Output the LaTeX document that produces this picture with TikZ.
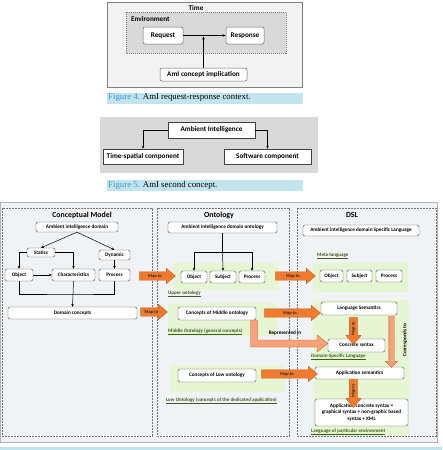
\documentclass[tikz,border=0pt]{standalone}
\usepackage{fontspec}
\setmainfont{Liberation Serif}
\setsansfont{Carlito}
\usetikzlibrary{arrows.meta,shapes.arrows,calc}
\definecolor{capband}{HTML}{C2E4EF}
\definecolor{capfig}{HTML}{3C97C6}
\definecolor{mapor}{HTML}{F07A2E}
\definecolor{mapbd}{HTML}{C0561A}
\definecolor{lightor}{HTML}{F7A27A}
\definecolor{panelbg}{HTML}{F0F3F5}
\definecolor{greenbg}{HTML}{E6F6D3}
\definecolor{ulgreen}{HTML}{3F5A1E}
\begin{document}
\begin{tikzpicture}[x=1pt,y=-1pt,
  fbox/.style={draw=black!60,fill=white,rounded corners=2pt,line width=0.5pt,font=\sffamily\bfseries\fontsize{7.2}{8}\selectfont,inner sep=0pt},
  gbox/.style={draw=black!75,fill=white,line width=0.5pt,font=\sffamily\bfseries\fontsize{7.2}{8}\selectfont,inner sep=0pt},
  cbox/.style={draw=black!70,fill=white,rounded corners=1.5pt,line width=0.4pt,font=\sffamily\bfseries\fontsize{5.2}{6.2}\selectfont,inner sep=0pt,align=center},
  conn/.style={draw=black,line width=0.5pt,-{Stealth[length=3pt,width=2.6pt]}},
  fline/.style={draw=black,line width=0.5pt},
  mapto/.style={single arrow,fill=mapor,draw=mapbd,line width=0.3pt,font=\sffamily\bfseries\fontsize{4.5}{4.8}\selectfont,text=black!85,inner xsep=1pt,inner ysep=2pt,text height=3.2pt,text depth=0.8pt,single arrow head extend=3.5pt,single arrow tip angle=80},
  panel/.style={draw=black!55,dash pattern=on 2pt off 1pt,line width=0.5pt},
  ptitle/.style={font=\sffamily\bfseries\fontsize{7.8}{8}\selectfont,inner sep=0pt},
  lbl/.style={font=\sffamily\bfseries\fontsize{5}{6}\selectfont,text=ulgreen,anchor=west,inner sep=0pt},
  greenzone/.style={fill=greenbg,draw=none},
  captext/.style={font=\fontsize{8.8}{10}\selectfont,anchor=west,inner sep=0pt},
]
\useasboundingbox (0,0) rectangle (442,450);
\fill[white] (0,0) rectangle (442,450);

% ---------------- Figure 4 ----------------
\draw[fill=black!5,draw=black!50,line width=0.6pt] (107,2) rectangle (302,87);
\node[font=\sffamily\bfseries\fontsize{7.2}{8}\selectfont,inner sep=0pt] (ftime) at (196,8) {Time};
\draw[fill=black!15,draw=black!50,dash pattern=on 1pt off 1pt,line width=0.5pt] (126,12) rectangle (286,53);
\node[font=\sffamily\bfseries\fontsize{7.2}{8}\selectfont,inner sep=0pt,anchor=west] (fenv) at (131,19) {Environment};
\node[fbox,minimum width=40,minimum height=17] (req) at (163,35.5) {Request};
\node[fbox,minimum width=38,minimum height=17] (resp) at (245,35.5) {Response};
\node[fbox,minimum width=87,minimum height=13] (aci) at (203.5,74.5) {AmI concept implication};
\draw[conn] (req.east) -- (resp.west);
\coordinate (fmid) at (203.5,36.5);
\draw[conn] (aci.north) -- (fmid);
\fill[capband] (107,92.5) rectangle (303,103.5);
\node[captext] (cap4) at (108,98) {{\color{capfig}Figure 4.} AmI request-response context.};

% ---------------- Figure 5 ----------------
\fill[black!15] (100,117) rectangle (318,173);
\node[gbox,minimum width=87,minimum height=16] (ai) at (211.5,130) {Ambient Intelligence};
\node[gbox,minimum width=80,minimum height=15] (ts) at (143,156.5) {Time-spatial component};
\node[gbox,minimum width=87,minimum height=15] (sw) at (267.5,156.5) {Software component};
\draw[conn] (ai.west) -| (ts.north);
\draw[conn] (ai.east) -| (sw.north);
\fill[capband] (107,179.5) rectangle (303,190.5);
\node[captext] (cap5) at (108,185) {{\color{capfig}Figure 5.} AmI second concept.};

% ---------------- Figure 6 ----------------
\draw[fill=panelbg,draw=black!30,line width=1pt] (0.5,202) rectangle (437.5,442);
\fill[capband] (0,447) rectangle (442,450);
\draw[panel] (2,208) rectangle (152,436);
\draw[panel] (157,208) rectangle (289,436);
\draw[panel] (297,208) rectangle (436,436);
\node[ptitle] (tcm) at (82,215) {Conceptual Model};
\node[ptitle] (tont) at (219,215) {Ontology};
\node[ptitle] (tdsl) at (352,215) {DSL};

% green zones
\fill[greenzone] (173,263) rectangle (279,290);
\fill[greenzone] (168,303) rectangle (277,336);
\fill[greenzone] (170,365) rectangle (285,392);
\fill[greenzone] (313,263) rectangle (408,292);
\fill[greenzone] (313,300) rectangle (409,436);

% Conceptual model
\node[cbox,minimum width=82,minimum height=10] (cmA) at (77,227) {Ambient intelligence domain};
\node[cbox,minimum width=28,minimum height=9] (cst) at (41,252.5) {Statics};
\node[cbox,minimum width=31,minimum height=10] (cdy) at (114.5,255) {Dynamic};
\node[cbox,minimum width=28,minimum height=12] (cob) at (19,275) {Object};
\node[cbox,minimum width=43,minimum height=12] (cch) at (73.5,275) {Characteristics};
\node[cbox,minimum width=31,minimum height=12] (cpr) at (114.5,275) {Process};
\node[cbox,minimum width=129,minimum height=12] (cdc) at (72.5,313) {Domain concepts};
\draw[conn] (cmA.south) -- (cst.north);
\draw[conn] (cmA.south) -- (cdy.north);
\draw[conn] (cst.west) -| (cob.north);
\draw[conn] (cst.east) -| (cch.north);
\draw[conn] (cdy.south) -- (cpr.north);
\draw[conn] (cob.east) -- (cch.west);
\coordinate (cj) at (73.5,294);
\draw[fline] (cob.south) |- (cj) -| (cpr.south);
\draw[conn] (cch.south) -- (cdc.north);

% Ontology
\node[cbox,minimum width=109,minimum height=11] (oA) at (222.5,227.5) {Ambient intelligence domain ontology};
\node[cbox,minimum width=26,minimum height=12] (oob) at (194,277) {Object};
\node[cbox,minimum width=26,minimum height=12] (osu) at (223,277) {Subject};
\node[cbox,minimum width=26,minimum height=12] (opr) at (252,277) {Process};
\coordinate (oj) at (222.5,252);
\draw[fline] (oA.south) -- (oj);
\draw[conn] (oj) -| (oob.north);
\draw[conn] (oj) -- (osu.north);
\draw[conn] (oj) -| (opr.north);
\node[lbl] (lup) at (168,294) {\underline{Upper ontology}};
\node[cbox,minimum width=78,minimum height=13] (omid) at (217,313.5) {Concepts of Middle ontology};
\node[lbl] (lmid) at (168,332) {\underline{Middle Ontology (general concepts)}};
\node[cbox,minimum width=78,minimum height=13] (olow) at (217,375.5) {Concepts of Low ontology};
\node[lbl] (llow) at (166,401) {\underline{Low Ontology (concepts of the dedicated application)}};

% DSL
\node[cbox,minimum width=116,minimum height=11] (dA) at (361,230.5) {Ambient intelligence domain Specific Language};
\node[lbl] (lmeta) at (317,256) {\underline{Meta-language}};
\node[cbox,minimum width=23,minimum height=12] (dob) at (331.5,276) {Object};
\node[cbox,minimum width=25,minimum height=12] (dsu) at (359.5,276) {Subject};
\node[cbox,minimum width=26,minimum height=12] (dpr) at (389,276) {Process};
\node[cbox,minimum width=76,minimum height=13] (dls) at (359,308.5) {Language Semantics};
\node[cbox,minimum width=57,minimum height=13] (dcs) at (356.5,345.5) {Concrete syntax};
\node[lbl] (ldsl) at (311,357) {\underline{Domain-Specific Language}};
\node[cbox,minimum width=89,minimum height=12] (das) at (359.5,373) {Application semantics};
\node[cbox,minimum width=93,minimum height=27] (dac) at (361.5,412.5) {Application concrete syntax =\\graphical syntax + non-graphic based\\syntax + XML};
\node[lbl] (lpart) at (311,432) {\underline{Language of particular environment}};

% Represented in
\draw[fill=lightor,draw=mapbd,line width=0.3pt] (250.5,320) -- (257.5,320) -- (257.5,340) -- (317,340) -- (317,335) -- (328,343.5) -- (317,352) -- (317,347) -- (250.5,347) -- cycle;
\node[font=\sffamily\bfseries\fontsize{5.2}{6}\selectfont,inner sep=0pt] (trep) at (285,333.5) {Represented in};

% Map to arrows
\node[mapto,minimum height=36,minimum width=15] (m1) at (155,276) {Map to};
\node[mapto,minimum height=27,minimum width=15] (m2) at (151.5,312) {Map to};
\node[mapto,minimum height=40,minimum width=15] (m3) at (293,276) {Map to};
\node[mapto,minimum height=56,minimum width=15] (m4) at (290,313) {Map to};
\node[mapto,minimum height=56,minimum width=15] (m5) at (287,374) {Map to};
\node[mapto,rotate=90,shape border rotate=180,minimum height=27,minimum width=15] (v1) at (353.5,328.5) {Map to};
\node[mapto,rotate=90,shape border rotate=180,minimum height=28,minimum width=15] (v2) at (353.5,391) {Map to};
\node[single arrow,fill=lightor,draw=mapbd,line width=0.3pt,rotate=-90,minimum height=51,minimum width=12,inner sep=2.5pt,text height=0pt,text depth=0pt,single arrow head extend=3.5pt] (corr) at (391.5,340.5) {};
\node[font=\sffamily\bfseries\fontsize{5.2}{6}\selectfont,inner sep=0pt,rotate=90] (tcorr) at (405,340) {Corresponds to};
\end{tikzpicture}
\end{document}
